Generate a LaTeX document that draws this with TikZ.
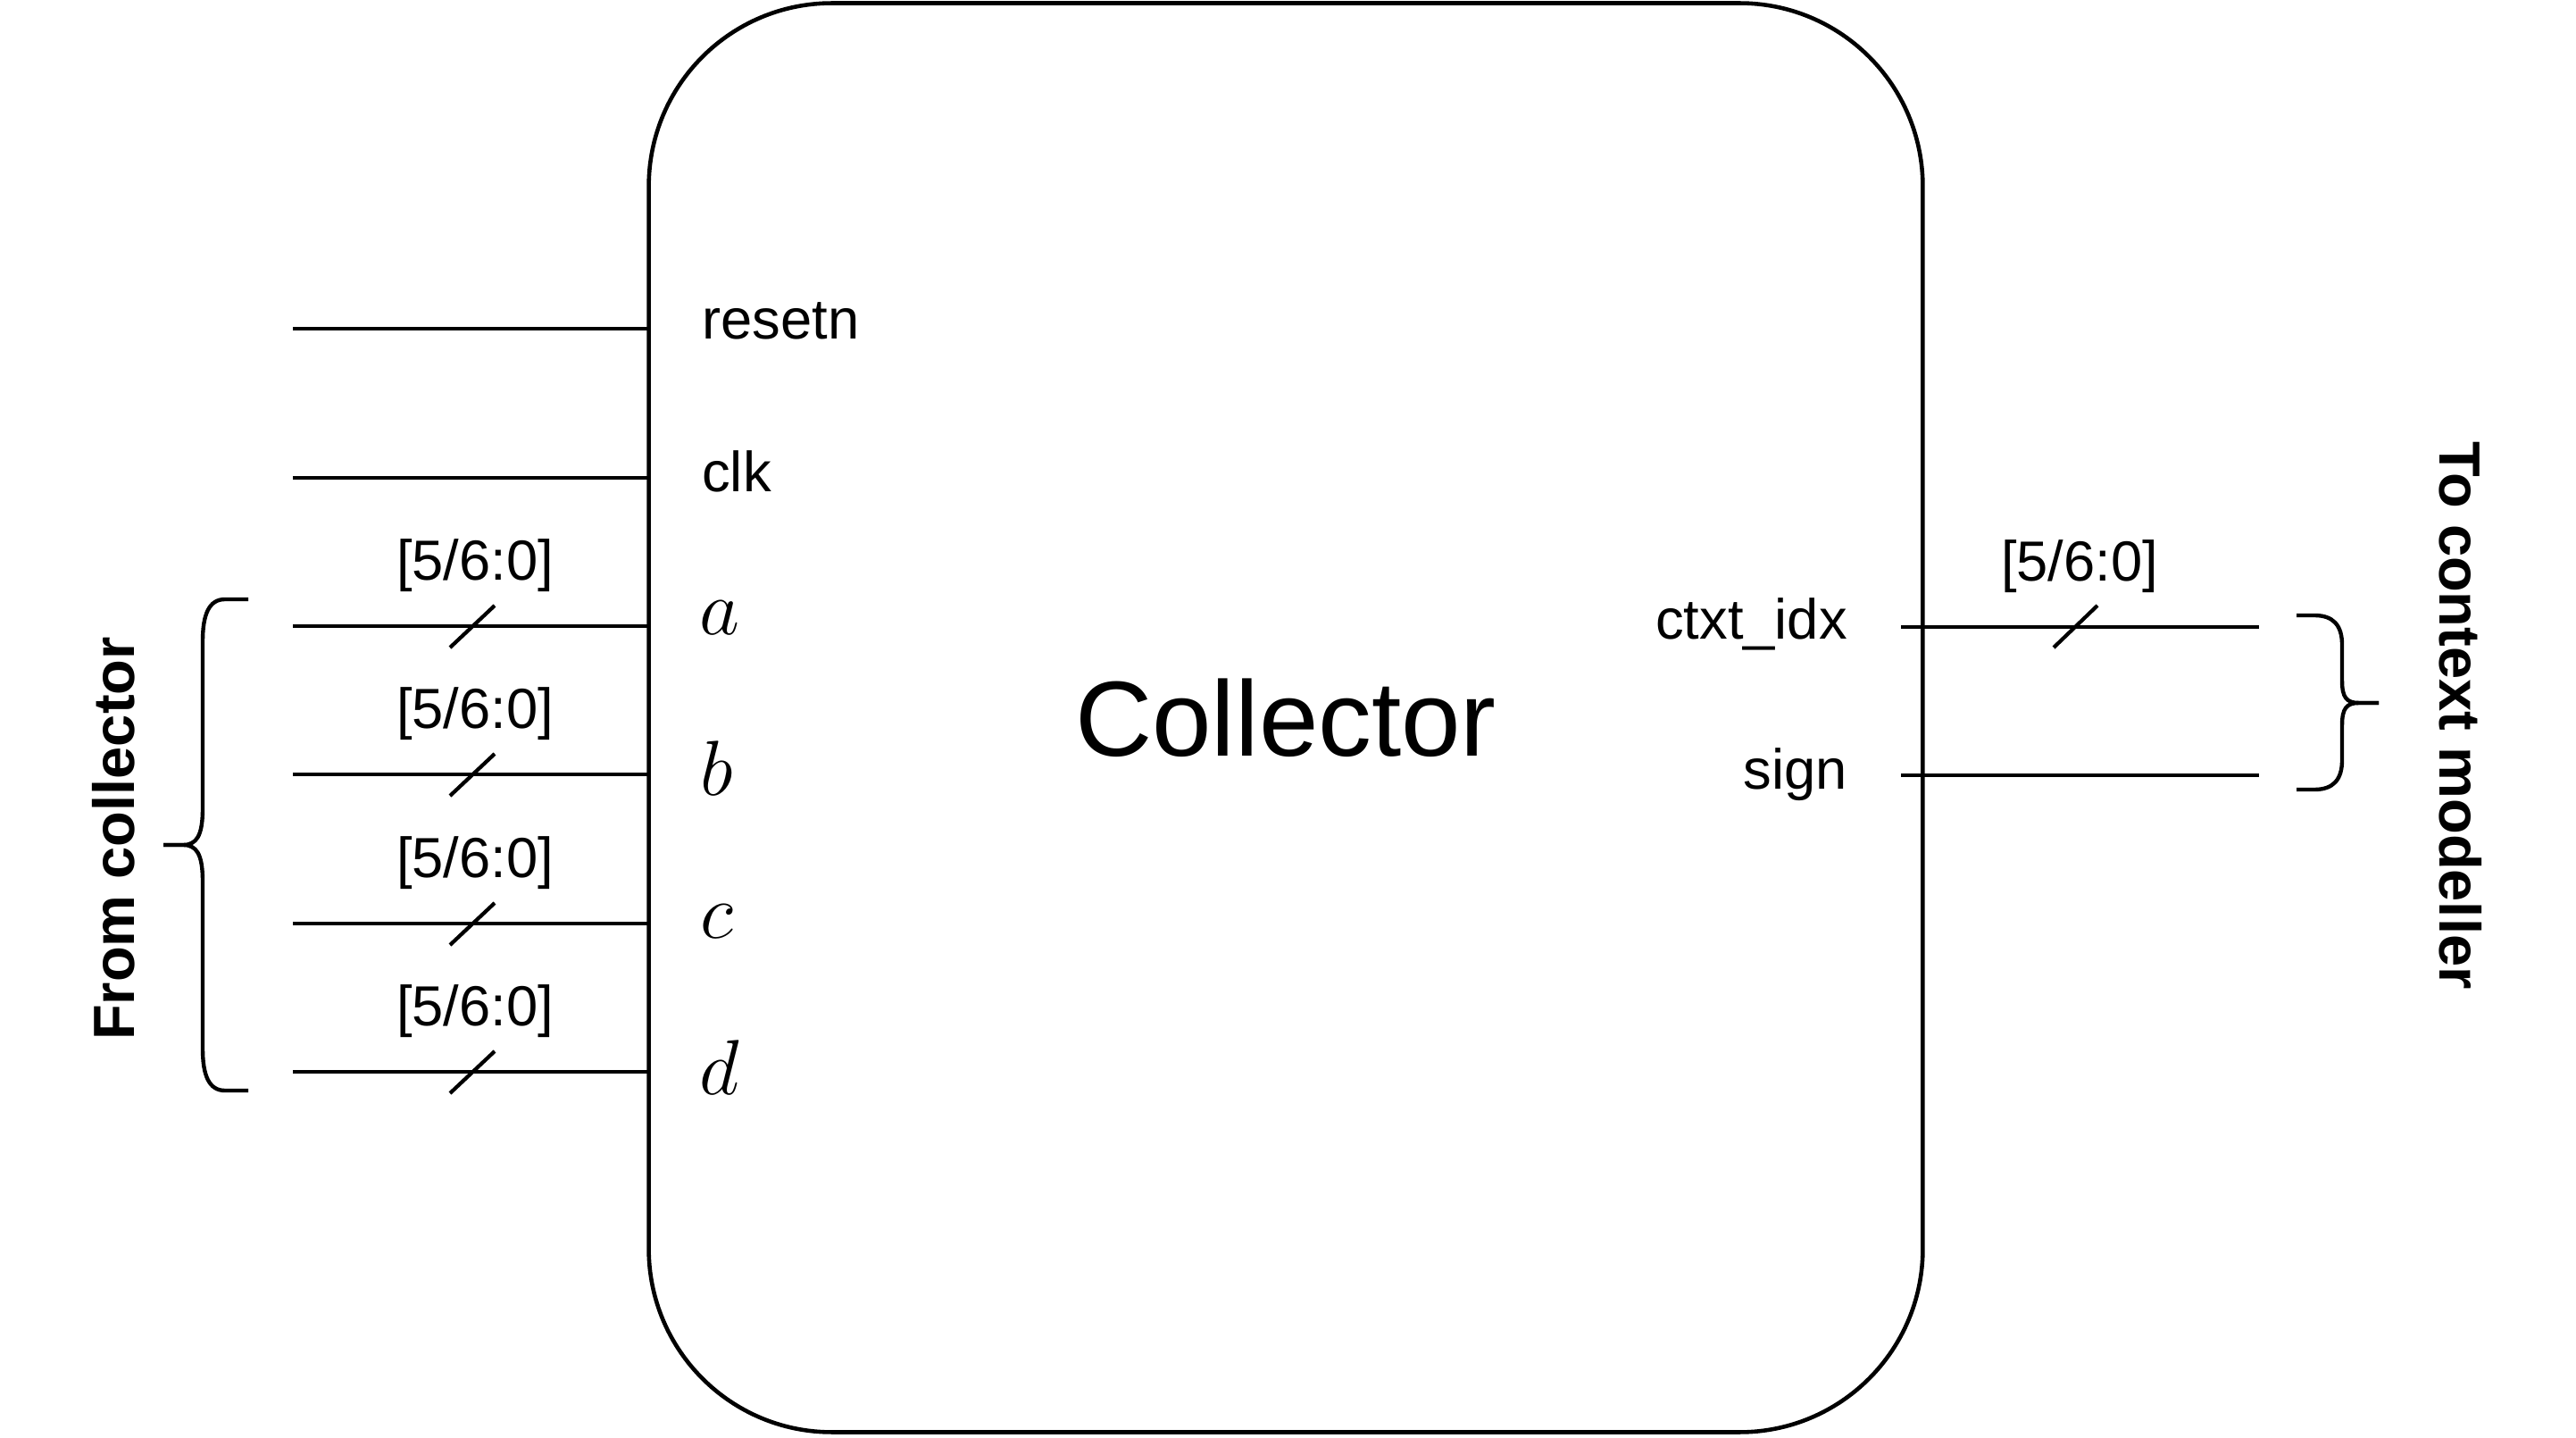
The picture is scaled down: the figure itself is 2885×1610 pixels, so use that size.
\documentclass[tikz,border=0pt]{standalone}
\usepackage{fontspec}
\setmainfont{Liberation Sans}
\begin{document}
\begin{tikzpicture}[x=0.01cm,y=-0.01cm, line width=1.3pt,
  port/.style={font=\fontsize{18pt}{20pt}\selectfont, inner sep=0pt},
  mport/.style={font=\fontsize{24pt}{28pt}\selectfont, inner sep=0pt, anchor=west},
  buswidth/.style={font=\fontsize{18pt}{20pt}\selectfont, inner sep=0pt},
  side/.style={font=\fontsize{18.5pt}{20pt}\selectfont\bfseries, inner sep=0pt},
  tick/.style={line width=1.2pt},
  brace/.style={line width=1.25pt, line join=round}]
\useasboundingbox (0,0) rectangle (2885,1610);
% main block
\node[draw, rounded corners=2.05cm, minimum width=14.26cm, minimum height=15.99cm,
      inner sep=0pt, outer sep=0pt, font=\fontsize{34pt}{40pt}\selectfont] (box) at (1440,803.5) {Collector};
% left wires
\foreach \n/\y in {rs/368, ck/535, a/701, b/867, c/1034, d/1200}{
  \coordinate (\n0) at (328,\y);
  \draw (\n0) -- (\n0 -| box.west);
}
% bus ticks on left
\foreach \n in {a,b,c,d}{
  \draw[tick] ([shift={(176,24)}]\n0) -- ++(50,-47);
}
% bus width labels left
\node[buswidth] (wa) at (532,633) {[5/6:0]};
\node[buswidth] (wb) at (532,799) {[5/6:0]};
\node[buswidth] (wc) at (532,966) {[5/6:0]};
\node[buswidth] (wd) at (532,1132) {[5/6:0]};
% port labels left
\node[port, anchor=base west] (lrs) at (784,380) {resetn};
\node[port, anchor=base west] (lck) at (784,551) {clk};
\node[mport] (la) at (781,692) {$a$};
\node[mport] (lb) at (782,860) {$b$};
\node[mport] (lc) at (782,1032) {$c$};
\node[mport] (ld) at (781,1195) {$d$};
% right wires
\coordinate (ci0) at (2129,702);
\coordinate (ci1) at (2530,702);
\coordinate (sg0) at (2129,868);
\coordinate (sg1) at (2530,868);
\draw (ci0) -- (ci1);
\draw (sg0) -- (sg1);
\draw[tick] ([shift={(171,23)}]ci0) -- ++(49,-47);
\node[buswidth] (wci) at (2329,634) {[5/6:0]};
\node[port, anchor=base east] (lci) at (2071,716) {ctxt\_idx};
\node[port, anchor=base east] (lsg) at (2071,884) {sign};
% left brace
\draw[brace] (278,671) -- (252,671) .. controls (234,671) and (227,688) .. (227,718)
  -- (227,905) .. controls (227,936) and (220,946) .. (205,946) -- (183,946);
\draw[brace] (183,946) -- (205,946) .. controls (220,946) and (227,956) .. (227,987)
  -- (227,1174) .. controls (227,1204) and (234,1221) .. (252,1221) -- (278,1221);
% right brace
\draw[brace] (2572,689) -- (2592,689) .. controls (2613,689) and (2623,700) .. (2623,722)
  -- (2623,762) .. controls (2623,781) and (2628,787) .. (2642,787) -- (2664,787);
\draw[brace] (2664,787) -- (2642,787) .. controls (2628,787) and (2623,793) .. (2623,812)
  -- (2623,851) .. controls (2623,873) and (2613,884) .. (2592,884) -- (2572,884);
% side labels
\node[side, rotate=90] (from) at (127,939) {From collector};
\node[side, rotate=-90] (to) at (2756,801) {To context modeller};
\end{tikzpicture}
\end{document}
